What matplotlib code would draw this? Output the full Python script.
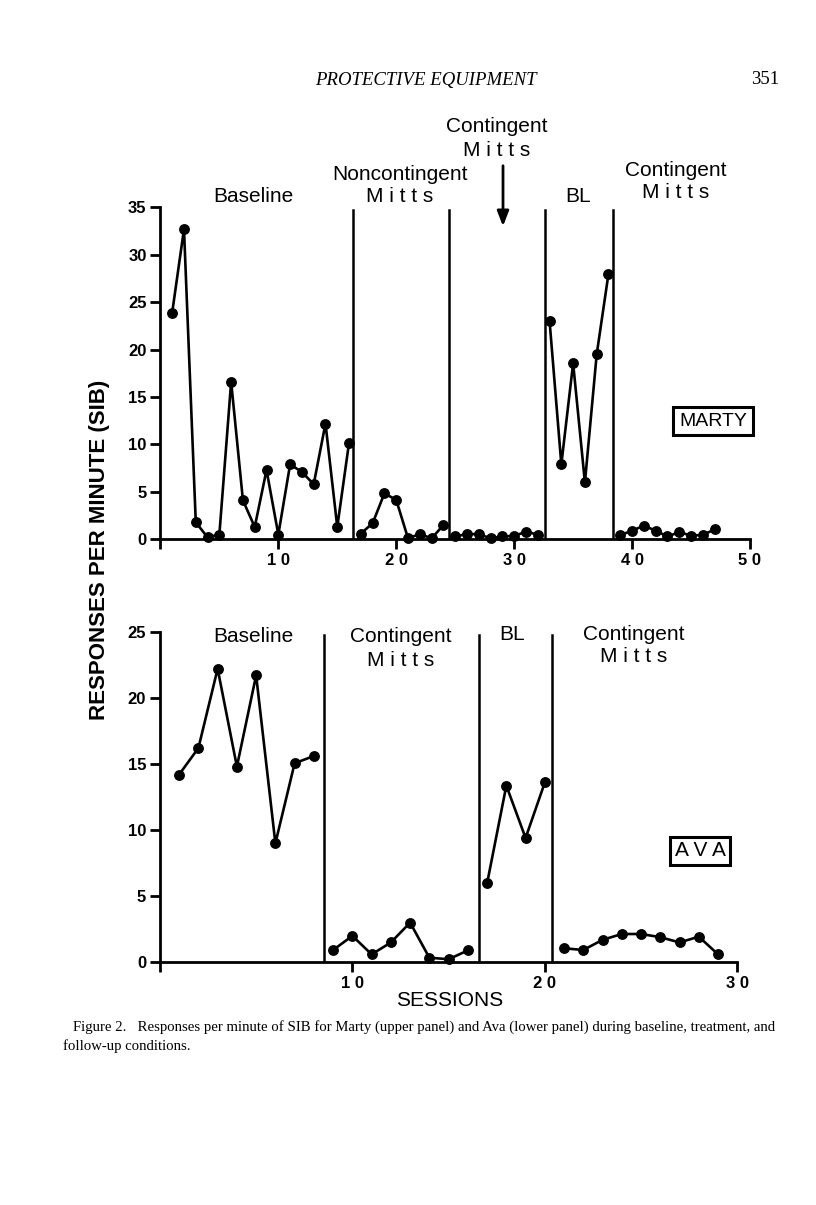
import numpy as np
import matplotlib
matplotlib.use("Agg")
import matplotlib.pyplot as plt

plt.rcParams['font.family'] = ['Liberation Sans', 'DejaVu Sans']

# Marty (upper panel): sessions and responses per minute, by phase
marty_sessions = [list(range(1, 17)), list(range(17, 25)), list(range(25, 33)),
                  list(range(33, 39)), list(range(39, 48))]
marty_values = [
    [23.9, 32.7, 1.8, 0.2, 0.5, 16.6, 4.1, 1.3, 7.3, 0.5, 7.9, 7.1, 5.8, 12.2, 1.3, 10.2],
    [0.6, 1.7, 4.85, 4.15, 0.1, 0.55, 0.1, 1.5],
    [0.3, 0.55, 0.55, 0.1, 0.3, 0.35, 0.8, 0.5],
    [23.05, 7.9, 18.55, 6.0, 19.5, 28.0],
    [0.45, 0.9, 1.45, 0.9, 0.3, 0.75, 0.4, 0.45, 1.05],
]
marty_changes = [16.3, 24.5, 32.6, 38.35]

# Ava (lower panel)
ava_sessions = [list(range(1, 9)), list(range(9, 17)), list(range(17, 21)), list(range(21, 30))]
ava_values = [
    [14.2, 16.2, 22.2, 14.8, 21.7, 9.0, 15.05, 15.6],
    [0.93, 2.0, 0.6, 1.5, 3.0, 0.35, 0.23, 0.9],
    [5.97, 13.36, 9.4, 13.6],
    [1.06, 0.93, 1.7, 2.14, 2.14, 1.9, 1.5, 1.94, 0.6],
]
ava_changes = [8.53, 16.58, 20.36]

W, H = 816, 1205
fig = plt.figure(figsize=(W / 100, H / 100), dpi=100)


def fx(x):
    return x / W


def fy(y):
    return 1 - y / H


def style_axis(ax, xmax, ymax, xticks, yticks):
    for s in ['top', 'right']:
        ax.spines[s].set_visible(False)
    for s in ['left', 'bottom']:
        ax.spines[s].set_linewidth(2)
    ax.set_xlim(0, xmax)
    ax.set_ylim(0, ymax)
    ax.set_xticks(xticks)
    # wide tracking like the printed figure
    ax.set_xticklabels(['' if t == 0 else ' '.join(str(t)) for t in xticks],
                       fontsize=12, fontweight='bold')
    ax.set_yticks(yticks)
    ax.set_yticklabels([str(t) for t in yticks], fontsize=12, fontweight='bold')
    ax.tick_params(direction='out', length=7, width=2, pad=3)
    ax.spines['left'].set_bounds(0, ymax)
    ax.spines['bottom'].set_bounds(0, xmax)


def draw_panel(ax, sessions, values, changes, ytop):
    for xs, ys in zip(sessions, values):
        ax.plot(xs, ys, color='black', lw=1.9, marker='o', ms=6.8, clip_on=False)
    for c in changes:
        ax.plot([c, c], [0, ytop], color='black', lw=1.8)


ax1 = fig.add_axes([fx(160.4), fy(539.3), fx(750 - 160.4), (539.3 - 207.3) / H])
style_axis(ax1, 50, 35, list(range(0, 51, 10)), list(range(0, 36, 5)))
draw_panel(ax1, marty_sessions, marty_values, marty_changes, 34.7)

ax2 = fig.add_axes([fx(159.9), fy(962.3), fx(737.3 - 159.9), (962.3 - 631.7) / H])
style_axis(ax2, 30, 25, list(range(0, 31, 10)), list(range(0, 26, 5)))
draw_panel(ax2, ava_sessions, ava_values, ava_changes, 24.75)

lab = dict(fontsize=15, ha='center', va='center')
# upper panel labels
fig.text(fx(253), fy(197), 'Baseline', **lab)
fig.text(fx(400), fy(175), 'Noncontingent', **lab)
fig.text(fx(400), fy(197), 'M i t t s', **lab)
fig.text(fx(497), fy(127), 'Contingent', **lab)
fig.text(fx(497), fy(150), 'M i t t s', **lab)
fig.text(fx(578), fy(197), 'BL', **lab)
fig.text(fx(676), fy(170), 'Contingent', **lab)
fig.text(fx(676), fy(192), 'M i t t s', **lab)
ax1.annotate('', xy=(fx(503), fy(229)), xytext=(fx(503), fy(163)),
             xycoords='figure fraction', textcoords='figure fraction',
             arrowprops=dict(arrowstyle='-|>,head_width=0.35,head_length=0.9',
                             color='black', lw=2))
fig.text(fx(713), fy(421), 'MARTY', fontsize=14, ha='center', va='center',
         bbox=dict(boxstyle='square,pad=0.3', fc='white', ec='black', lw=2.2))

# lower panel labels
fig.text(fx(253), fy(636), 'Baseline', **lab)
fig.text(fx(401), fy(637), 'Contingent', **lab)
fig.text(fx(401), fy(660), 'M i t t s', **lab)
fig.text(fx(512), fy(635), 'BL', **lab)
fig.text(fx(634), fy(634), 'Contingent', **lab)
fig.text(fx(634), fy(657), 'M i t t s', **lab)
fig.text(fx(700), fy(851), 'A V A', fontsize=15, ha='center', va='center',
         bbox=dict(boxstyle='square,pad=0.22', fc='white', ec='black', lw=2.2))

fig.text(fx(100), fy(550), 'RESPONSES PER MINUTE (SIB)', fontsize=16,
         fontweight='bold', rotation=90, ha='center', va='center')
fig.text(fx(450), fy(1000), 'SESSIONS', fontsize=15, ha='center', va='center')

# page header and caption
fig.text(fx(426), fy(80), 'PROTECTIVE EQUIPMENT', fontsize=13.5, style='italic',
         family='Liberation Serif', ha='center', va='center')
fig.text(fx(765), fy(80), '351', fontsize=13.5, family='Liberation Serif',
         ha='center', va='center')
fig.text(fx(73), fy(1027), 'Figure 2.   Responses per minute of SIB for Marty (upper panel) and Ava '
         '(lower panel) during baseline, treatment, and', fontsize=10.6,
         family='Liberation Serif', ha='left', va='center')
fig.text(fx(63), fy(1046), 'follow-up conditions.', fontsize=10.6,
         family='Liberation Serif', ha='left', va='center')

fig.savefig('out.png', dpi=100)
